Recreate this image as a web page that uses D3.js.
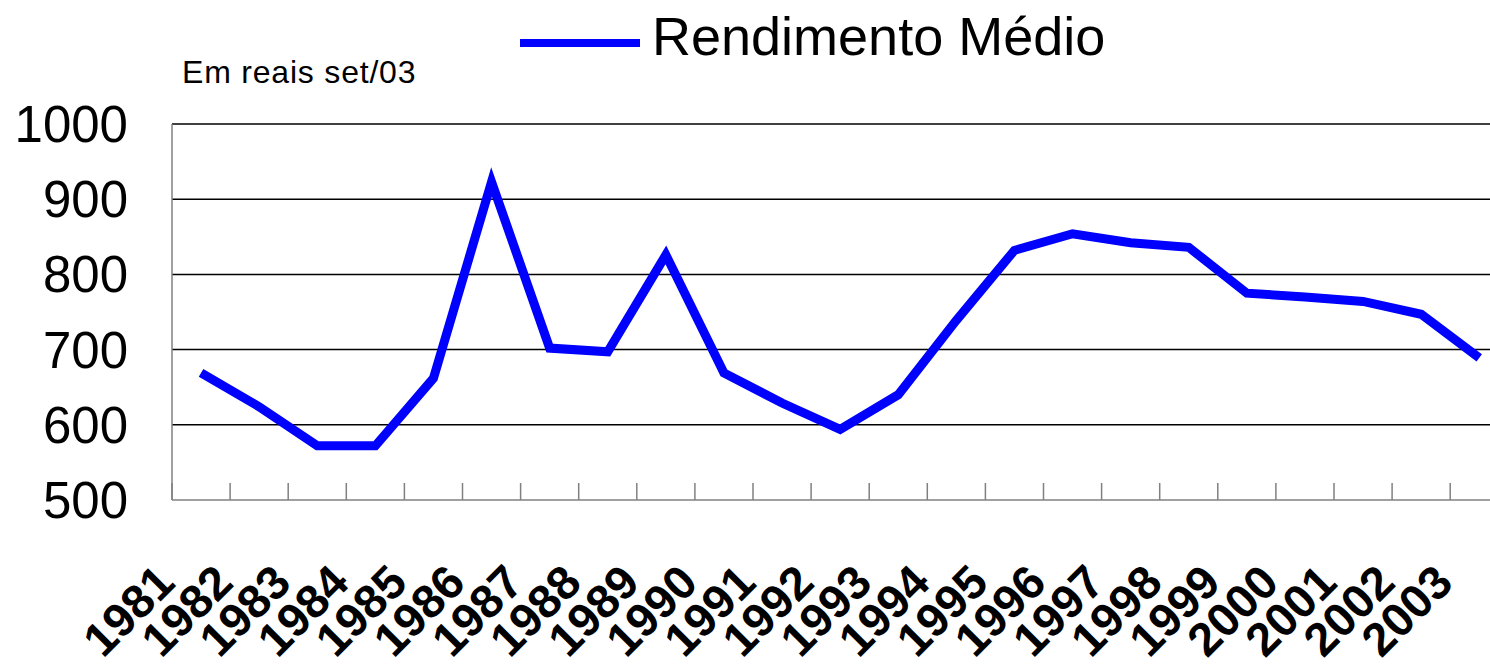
<!DOCTYPE html>
<html>
<head>
<meta charset="utf-8">
<script src="https://cdn.jsdelivr.net/npm/d3@7"></script>
<style>
  body { margin: 0; background: #fff; }
  svg { display: block; font-family: Arial, "Liberation Sans", sans-serif; }
</style>
</head>
<body>
<svg id="chart" width="1490" height="667"></svg>
<script>
// data
const years = ['1981','1982','1983','1984','1985','1986','1987','1988','1989','1990','1991','1992',
               '1993','1994','1995','1996','1997','1998','1999','2000','2001','2002','2003'];
const rendimento = [669, 624, 572, 572, 662, 923, 702, 697, 826, 669, 629, 594,
                    640, 739, 832, 854, 842, 836, 775, 770, 764, 747, 689];
const yTicks = [500, 600, 700, 800, 900, 1000];
const seriesName = 'Rendimento Médio';
const unitNote = 'Em reais set/03';

const svg = d3.select('#chart');

const plotLeft = 172, plotBottom = 500, plotTop = 124;
const catW = 58.1;

const x = d3.scaleBand()
    .domain(years)
    .range([plotLeft, plotLeft + years.length * catW]);

const y = d3.scaleLinear()
    .domain([500, 1000])
    .range([plotBottom, plotTop]);

const cx = d => x(d) + x.bandwidth() / 2;

// gridlines
svg.append('g')
    .selectAll('line')
    .data(yTicks.filter(t => t > 500))
    .join('line')
    .attr('x1', plotLeft)
    .attr('x2', x.range()[1])
    .attr('y1', d => y(d))
    .attr('y2', d => y(d))
    .attr('stroke', '#000')
    .attr('stroke-width', 1.5);

// axes lines (grey)
svg.append('line')
    .attr('x1', plotLeft).attr('x2', plotLeft)
    .attr('y1', plotTop).attr('y2', plotBottom)
    .attr('stroke', '#808080').attr('stroke-width', 1.5);
svg.append('line')
    .attr('x1', plotLeft).attr('x2', x.range()[1])
    .attr('y1', plotBottom).attr('y2', plotBottom)
    .attr('stroke', '#808080').attr('stroke-width', 1.5);

// category tick marks (pointing up into the plot)
svg.append('g')
    .selectAll('line')
    .data(years)
    .join('line')
    .attr('x1', d => x(d))
    .attr('x2', d => x(d))
    .attr('y1', plotBottom)
    .attr('y2', plotBottom - 17)
    .attr('stroke', '#808080')
    .attr('stroke-width', 1.5);

// y labels
svg.append('g')
    .selectAll('text')
    .data(yTicks)
    .join('text')
    .attr('x', 128)
    .attr('y', d => y(d) + 18)
    .attr('text-anchor', 'end')
    .attr('font-size', 51)
    .attr('fill', '#000')
    .text(d => d);

// x labels, rotated
svg.append('g')
    .selectAll('text')
    .data(years)
    .join('text')
    .attr('text-anchor', 'end')
    .attr('transform', d => `translate(${cx(d) - 24},585) rotate(-45)`)
    .attr('font-size', 47)
    .attr('font-weight', 'bold')
    .attr('fill', '#000')
    .text(d => d);

// the line
const line = d3.line()
    .x((d, i) => cx(years[i]))
    .y(d => y(d));

svg.append('path')
    .datum(rendimento)
    .attr('d', line)
    .attr('fill', 'none')
    .attr('stroke', '#0000ff')
    .attr('stroke-width', 9)
    .attr('stroke-linejoin', 'miter');

// legend
svg.append('line')
    .attr('x1', 520).attr('x2', 640)
    .attr('y1', 43).attr('y2', 43)
    .attr('stroke', '#0000ff')
    .attr('stroke-width', 8);
svg.append('text')
    .attr('x', 652)
    .attr('y', 55)
    .attr('font-size', 54)
    .attr('fill', '#000')
    .text(seriesName);

// unit note
svg.append('text')
    .attr('x', 182)
    .attr('y', 83)
    .attr('font-size', 32)
    .attr('letter-spacing', 0.8)
    .attr('fill', '#000')
    .text(unitNote);
</script>
</body>
</html>
